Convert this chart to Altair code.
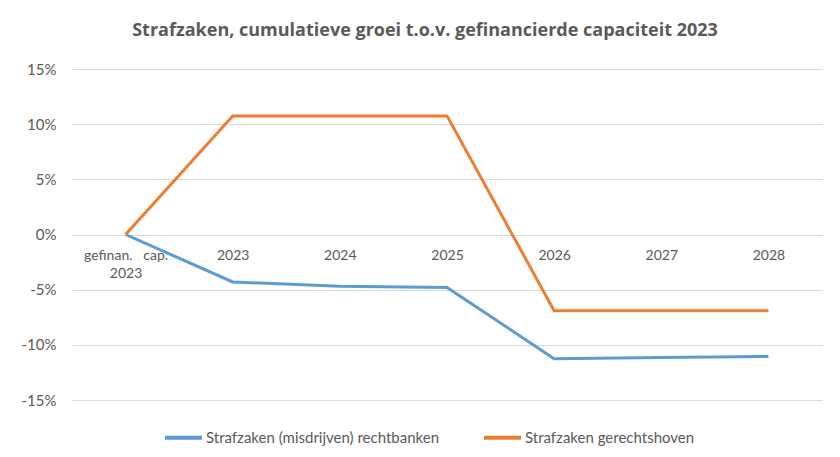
import altair as alt
import pandas as pd

categories = ["gefinan.\u00a0\u00a0 cap.\n2023", "2023", "2024", "2025", "2026", "2027", "2028"]
series_names = ["Strafzaken (misdrijven) rechtbanken", "Strafzaken gerechtshoven"]
rechtbanken = [0.0, -4.3, -4.7, -4.8, -11.25, -11.15, -11.05]
gerechtshoven = [0.0, 10.75, 10.75, 10.75, -6.9, -6.9, -6.9]
colors = ["#5B9BD5", "#ED7D31"]

rows = []
for name, vals in zip(series_names, [rechtbanken, gerechtshoven]):
    for i, (c, v) in enumerate(zip(categories, vals)):
        rows.append({"cat": c, "order": i, "series": name, "value": v})
df = pd.DataFrame(rows)

FONT = "Lato"
GREY = "#595959"

chart = alt.Chart(df).mark_line(strokeWidth=3, strokeJoin="miter").encode(
    x=alt.X("cat:N", sort=categories, title=None,
            scale=alt.Scale(type="point", padding=0.5),
            axis=alt.Axis(offset=-165, ticks=False, domain=True, domainColor="#d9d9d9",
                          grid=False, labelAngle=0, labelColor=GREY, labelFont=FONT,
                          labelFontSize=14, labelPadding=13, labelLineHeight=18,
                          labelExpr="split(datum.label, '\\n')")),
    y=alt.Y("value:Q", title=None,
            scale=alt.Scale(domain=[-15, 15], nice=False),
            axis=alt.Axis(values=[-15, -10, -5, 0, 5, 10, 15], labelExpr="datum.value + '%'",
                          ticks=False, domain=False, gridColor="#d9d9d9", labelColor=GREY,
                          labelFont=FONT, labelFontSize=15, labelPadding=16)),
    color=alt.Color("series:N", sort=series_names,
                    scale=alt.Scale(domain=series_names, range=colors),
                    legend=alt.Legend(title=None, orient="none", direction="horizontal",
                                      legendX=91, legendY=348, symbolType="stroke",
                                      symbolSize=1369, symbolStrokeWidth=4,
                                      labelFont=FONT, labelFontSize=15, labelColor=GREY,
                                      labelLimit=400, columnPadding=36, labelOffset=2)),
    order="order:Q",
).properties(
    width=750, height=331,
    autosize=alt.AutoSizeParams(type="none"),
    padding={"left": 64, "top": 61, "right": 10, "bottom": 49},
    title=alt.TitleParams("Strafzaken, cumulatieve groei t.o.v. gefinancierde capaciteit 2023",
                          font="Open Sans", fontSize=18, fontWeight="bold", color=GREY,
                          anchor="middle", dx=-22, offset=22),
).configure_view(stroke=None)

chart.save("out.html", embed_options={"renderer": "svg", "actions": False})
